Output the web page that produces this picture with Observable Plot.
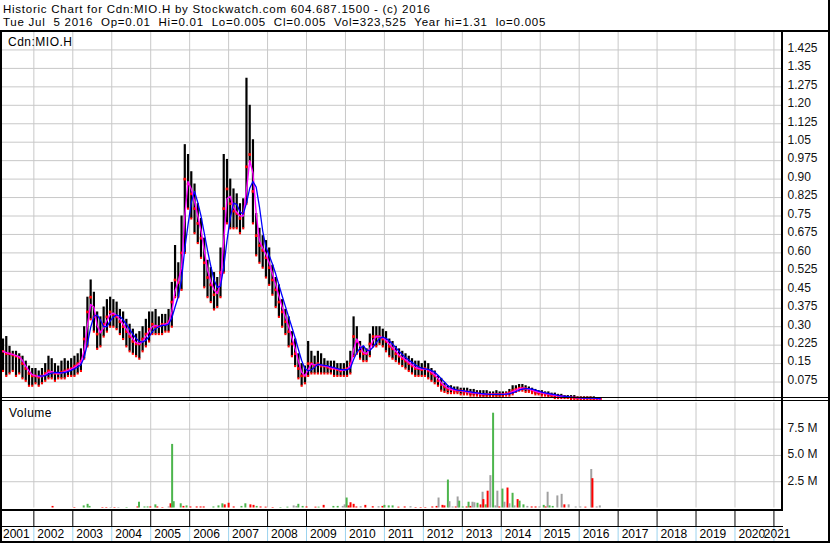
<!DOCTYPE html>
<html><head><meta charset="utf-8">
<script src="https://cdn.jsdelivr.net/npm/d3@7"></script>
<script src="https://cdn.jsdelivr.net/npm/@observablehq/plot@0.6"></script>
<style>
body{margin:0;background:#fff;}
#wrap{position:relative;width:830px;height:543px;overflow:hidden;background:#fff;font-family:"Liberation Sans",Arial,sans-serif;color:#000;}
.blk{position:absolute;background:#000;}
.hdr{font-size:11.5px;line-height:13px;letter-spacing:0.75px;white-space:pre;}
.lbl{font-size:12px;line-height:13px;letter-spacing:0.5px;white-space:pre;}
svg{overflow:visible;}
</style></head>
<body><div id="wrap"></div>
<script>
// ---------- data ----------
const titleLine1 = "Historic Chart for Cdn:MIO.H by Stockwatch.com 604.687.1500 - (c) 2016";
const titleLine2 = "Tue Jul  5 2016  Op=0.01  Hi=0.01  Lo=0.005  Cl=0.005  Vol=323,525  Year hi=1.31  lo=0.005";
const symbolLabel = "Cdn:MIO.H";
const volumeLabel = "Volume";

// monthly bars, first one = March 2001
const startYear = 2001, startMonth = 3;
const priceHigh = [
  .25,.26,.22,.20,.20,.19,.18,.16,.14,.13,                 // 2001
  .13,.12,.13,.15,.18,.17,.15,.14,.16,.17,.16,.17,         // 2002
  .18,.19,.21,.30,.42,.49,.44,.36,.34,.38,.41,.42,         // 2003
  .41,.40,.37,.36,.33,.31,.29,.27,.28,.30,.33,.36,         // 2004
  .36,.37,.34,.35,.35,.37,.48,.63,.56,.75,1.04,1.00,       // 2005
  .93,.88,.80,.74,.66,.57,.54,.52,.50,.62,1.00,.98,        // 2006
  .90,.86,.84,.80,.82,1.31,1.20,1.06,.76,.70,.67,.65,      // 2007
  .62,.55,.50,.47,.41,.37,.34,.28,.25,.19,.15,.14,         // 2008
  .24,.20,.18,.20,.19,.17,.16,.16,.16,.15,.15,.15,         // 2009
  .16,.20,.34,.30,.24,.22,.21,.27,.30,.30,.30,.29,         // 2010
  .28,.25,.24,.22,.21,.20,.19,.18,.17,.16,.16,.15,         // 2011
  .16,.15,.13,.12,.10,.09,.07,.06,.06,.055,.055,.05,       // 2012
  .05,.05,.045,.045,.04,.04,.04,.04,.035,.035,.04,.035,    // 2013
  .035,.035,.045,.06,.06,.065,.065,.06,.055,.05,.045,.04,  // 2014
  .04,.035,.035,.03,.03,.025,.025,.02,.02,.02,.02,.015,    // 2015
  .015,.015,.015,.015,.015,.01,.01                         // 2016
];
const priceLow = [
  .12,.10,.11,.12,.10,.11,.09,.08,.06,.06,
  .07,.06,.07,.08,.09,.09,.08,.09,.09,.09,.10,.10,
  .10,.11,.12,.17,.22,.33,.28,.21,.22,.26,.28,.30,
  .30,.29,.27,.25,.22,.20,.19,.18,.17,.20,.22,.24,
  .27,.27,.27,.27,.28,.28,.30,.42,.42,.45,.60,.78,
  .74,.68,.64,.58,.46,.42,.40,.37,.38,.42,.52,.72,
  .70,.70,.70,.68,.70,.80,.97,.72,.59,.56,.54,.50,
  .47,.43,.38,.34,.30,.27,.22,.18,.14,.09,.06,.07,
  .10,.11,.11,.11,.11,.11,.11,.11,.10,.10,.10,.10,
  .10,.11,.18,.19,.17,.16,.16,.18,.22,.22,.23,.22,
  .20,.18,.17,.16,.15,.14,.13,.12,.11,.10,.10,.10,
  .10,.09,.08,.07,.06,.04,.035,.03,.03,.03,.03,.025,
  .025,.025,.02,.02,.02,.015,.015,.015,.015,.015,.015,.015,
  .015,.02,.02,.025,.035,.04,.04,.035,.035,.03,.025,.025,
  .02,.02,.015,.015,.01,.01,.01,.01,.01,.005,.005,.005,
  .005,.005,.005,.005,.005,.005,.005
];
const priceClose = [
  .20,.19,.19,.185,.18,.175,.15,.13,.11,.10,
  .10,.095,.10,.11,.12,.115,.11,.11,.115,.12,.125,.13,
  .14,.15,.16,.25,.36,.42,.34,.27,.28,.31,.34,.36,
  .35,.34,.32,.30,.28,.26,.24,.23,.23,.25,.27,.29,
  .31,.30,.30,.31,.31,.32,.40,.49,.48,.60,.90,.88,
  .84,.78,.72,.66,.56,.50,.47,.43,.44,.52,.78,.86,
  .80,.77,.76,.74,.76,.95,1.00,.85,.67,.63,.61,.58,
  .54,.49,.45,.40,.36,.32,.28,.23,.19,.13,.10,.10,
  .15,.15,.14,.15,.14,.14,.135,.13,.13,.125,.12,.125,
  .13,.15,.26,.24,.20,.19,.19,.23,.26,.26,.26,.25,
  .24,.22,.21,.19,.18,.17,.16,.15,.14,.13,.13,.125,
  .13,.12,.11,.10,.08,.065,.055,.045,.045,.04,.04,.04,
  .035,.035,.03,.03,.03,.025,.025,.025,.025,.025,.025,.025,
  .025,.028,.032,.04,.045,.05,.05,.048,.045,.04,.035,.032,
  .03,.027,.025,.022,.02,.018,.016,.015,.013,.012,.011,.01,
  .01,.01,.01,.01,.008,.007,.005
];
const blueStart = 2002.1; // long average first appears early 2002

const priceTicks = [0.075,0.15,0.225,0.30,0.375,0.45,0.525,0.60,0.675,0.75,0.825,0.90,0.975,1.05,1.125,1.20,1.275,1.35,1.425];

// volume bars (time in decimal years, value in millions)
const volTime = [
  2002.48,2003.04,2003.28,2003.38,2003.43,2003.76,2003.86,2003.97,2004.07,2004.17,2004.38,2004.66,2004.70,2004.84,2004.92,2004.99,
  2005.12,2005.17,2005.30,2005.46,2005.51,2005.55,2005.59,2005.77,2005.84,2005.92,2006.02,2006.18,2006.28,2006.36,2006.61,2006.74,
  2006.84,2006.90,2007.00,2007.13,2007.33,2007.43,2007.56,2007.64,2007.72,2007.82,2007.95,2008.13,2008.33,2008.51,2008.67,2008.74,
  2008.79,2008.90,2009.00,2009.23,2009.31,2009.44,2009.69,2009.80,2009.93,2009.98,2010.03,2010.08,2010.13,2010.21,2010.28,2010.39,
  2010.51,2010.70,2010.85,2010.95,2011.00,2011.11,2011.21,2011.36,2011.52,2011.67,2011.80,2011.93,2012.05,2012.23,2012.34,2012.39,
  2012.49,2012.54,2012.63,2012.67,2012.75,2012.83,2012.88,2012.92,2013.01,2013.11,2013.16,2013.21,2013.26,2013.31,2013.39,2013.47,
  2013.52,2013.54,2013.60,2013.65,2013.72,2013.79,2013.85,2013.90,2013.95,2014.03,2014.08,2014.16,2014.21,2014.29,2014.34,2014.42,
  2014.47,2014.57,2014.67,2014.78,2014.88,2014.98,2015.09,2015.14,2015.19,2015.24,2015.32,2015.44,2015.55,2015.62,2015.73,2015.91,
  2016.03,2016.16,2016.31,2016.34,2016.45,2016.53
];
const volValue = [
  0.15,0.05,0.2,0.35,0.15,0.05,0.05,0.05,0.05,0.05,0.05,0.1,0.55,0.1,0.1,0.1,
  0.3,0.1,0.05,0.1,0.4,6.05,0.6,0.4,0.15,0.2,0.1,0.1,0.1,0.1,0.1,0.2,
  0.4,0.3,0.45,0.1,0.15,0.4,0.3,0.25,0.15,0.1,0.08,0.05,0.05,0.08,0.2,0.15,
  0.35,0.15,0.1,0.08,0.08,0.25,0.15,0.15,0.15,0.3,0.95,0.2,0.5,0.35,0.1,0.12,
  0.25,0.12,0.12,0.15,0.25,0.2,0.2,0.08,0.1,0.12,0.05,0.05,0.05,0.1,0.15,0.95,
  0.25,0.2,2.66,0.6,0.1,0.1,1.05,0.65,0.1,0.1,0.55,0.15,0.55,0.5,0.45,0.3,
  1.5,0.8,0.3,1.6,3.08,9.02,0.2,1.6,0.1,1.8,0.55,1.9,0.4,1.4,0.2,0.8,
  0.65,0.3,0.15,0.1,0.1,0.1,0.25,0.1,1.5,0.2,0.15,1.15,1.3,0.3,0.3,0.1,
  0.1,0.08,3.66,2.79,0.1,0.2
];
const volColor = [
  "d","d","u","u","u","d","d","f","d","f","u","d","u","u","u","d",
  "u","d","d","f","d","u","u","u","d","u","d","d","d","d","u","u",
  "u","d","d","d","u","u","d","d","u","d","d","d","u","u","f","f",
  "u","u","d","d","u","d","u","u","f","f","u","d","d","d","d","f",
  "d","d","f","d","u","u","u","d","d","f","d","d","d","d","d","f",
  "d","d","u","f","f","d","f","u","u","d","u","d","f","f","u","d",
  "f","d","u","d","f","u","f","f","d","u","f","d","f","u","f","d",
  "u","u","f","d","d","f","u","d","f","u","u","f","f","d","f","f",
  "f","d","f","d","f","f"
];
const volTicks = [2.5, 5.0, 7.5];
const volTickLabels = ["2.5 M", "5.0 M", "7.5 M"];
const years = [2001,2002,2003,2004,2005,2006,2007,2008,2009,2010,2011,2012,2013,2014,2015,2016,2017,2018,2019,2020,2021];

// ---------- build ----------
const xDomain = [2001.195, 2021.22];
const W = 830, ML = 2, MR = 48;
const grid = "#c8c8c8";
const colorMap = {u: "#4cb54c", d: "#ff0000", f: "#a0a0a0"};

const rows = priceClose.map((c, i) => ({
  t: startYear + (startMonth - 1 + i + 0.5) / 12,
  hi: priceHigh[i], lo: priceLow[i], cl: c
}));
rows.forEach((r, i) => {
  r.ma1 = d3.mean(priceClose.slice(Math.max(0, i - 1), i + 1));
  r.ma2 = r.t >= blueStart ? d3.mean(priceClose.slice(Math.max(0, i - 3), i + 1)) : NaN;
});
const vol = volTime.map((t, i) => ({t, v: volValue[i], c: volColor[i]}));
const yearLines = years.slice(1);
const fmtPrice = d => { const s = d.toFixed(3); return s.endsWith("0") ? d.toFixed(2) : s; };

const wrap = document.getElementById("wrap");
function place(el, left, top) { el.style.position = "absolute"; el.style.left = left + "px"; el.style.top = top + "px"; wrap.appendChild(el); return el; }
function div(cls, text, left, top) { const d = document.createElement("div"); d.className = cls; d.textContent = text; return place(d, left, top); }
function bar(left, top, w, h) { const d = document.createElement("div"); d.className = "blk"; d.style.width = w + "px"; d.style.height = h + "px"; return place(d, left, top); }

// price panel
const price = Plot.plot({
  width: W, height: 369, marginLeft: ML, marginRight: MR, marginTop: 0, marginBottom: 0,
  x: {type: "linear", domain: xDomain, axis: null},
  y: {domain: [0, 1.5], axis: null},
  style: {background: "transparent", fontFamily: "Liberation Sans, Arial, sans-serif"},
  marks: [
    Plot.ruleY(priceTicks, {stroke: grid}),
    Plot.ruleX(yearLines, {stroke: grid}),
    Plot.ruleX(rows, {x: "t", y1: "lo", y2: "hi", stroke: "#000", strokeWidth: 2.2}),
    Plot.dot(rows, {x: "t", y: "cl", symbol: "square", r: 1.5, fill: "#ff0000", stroke: null}),
    Plot.dot(rows, {x: "t", y: "lo", symbol: "square", r: 1.2, fill: "#ff0000", stroke: null}),
    Plot.line(rows, {x: "t", y: "ma1", stroke: "#ff00ff", strokeWidth: 1.4}),
    Plot.line(rows, {x: "t", y: "ma2", stroke: "#0000ff", strokeWidth: 1.3}),
    Plot.axisY({anchor: "right", label: null, ticks: priceTicks, tickSize: 0, tickPadding: 5, tickFormat: fmtPrice, fontSize: 12, dy: -2, fill: "#111"})
  ]
});
place(price, 0, 31);

// volume panel
const volume = Plot.plot({
  width: W, height: 108, marginLeft: ML, marginRight: MR, marginTop: 1.4, marginBottom: 1.5,
  x: {type: "linear", domain: xDomain, axis: null},
  y: {domain: [0, 10], axis: null},
  style: {background: "transparent", fontFamily: "Liberation Sans, Arial, sans-serif"},
  marks: [
    Plot.ruleY(volTicks, {stroke: grid}),
    Plot.ruleX(yearLines, {stroke: grid}),
    Plot.ruleX(vol, {x: "t", y: "v", stroke: d => colorMap[d.c], strokeWidth: 2}),
    Plot.axisY({anchor: "right", label: null, ticks: volTicks, tickSize: 0, tickPadding: 5, tickFormat: (d, i) => volTickLabels[i], fontSize: 12, dy: -1, fill: "#111"})
  ]
});
place(volume, 0, 401);

// year box row
const boxes = Plot.plot({
  width: W, height: 15, marginLeft: ML, marginRight: MR, marginTop: 0, marginBottom: 0,
  x: {type: "linear", domain: xDomain, axis: null},
  style: {background: "transparent"},
  marks: [Plot.ruleX(yearLines, {stroke: "#000"})]
});
place(boxes, 0, 511);

// year label row
const yearRow = Plot.plot({
  width: W, height: 14, marginLeft: ML, marginRight: MR, marginTop: 0, marginBottom: 0,
  x: {type: "linear", domain: xDomain, axis: null},
  style: {background: "transparent", fontFamily: "Liberation Sans, Arial, sans-serif"},
  marks: [
    Plot.ruleX(yearLines, {stroke: "#9cd3ee"}),
    Plot.text(years.slice(0, 1), {x: () => xDomain[0], text: d => String(d), textAnchor: "start", dx: 0.5, fontSize: 12, fill: "#000"}),
    Plot.text(years.slice(1, -1), {x: d => d, text: d => String(d), textAnchor: "start", dx: 3.5, fontSize: 12, fill: "#000"}),
    Plot.text(years.slice(-1), {x: () => xDomain[1], text: d => String(d), textAnchor: "end", dx: 8, fontSize: 12, fill: "#000"})
  ]
});
place(yearRow, 0, 527);

// header & labels
div("hdr", titleLine1, 3, 3);
div("hdr", titleLine2, 3, 16);
div("lbl", symbolLabel, 8, 36);
div("lbl", volumeLabel, 9, 407);

// frame lines
bar(0, 30, 830, 2);          // under header
bar(0, 31, 2, 512);          // left edge
bar(828, 0, 2, 543);         // right edge
bar(781, 31, 2, 479);        // plot / axis separator
bar(0, 397, 830, 1);         // double line
bar(0, 400, 830, 1);
bar(0, 509, 783, 2);         // under volume
bar(0, 526, 783, 1);         // under year boxes
bar(0, 541, 830, 2);         // bottom
</script>
</body></html>
